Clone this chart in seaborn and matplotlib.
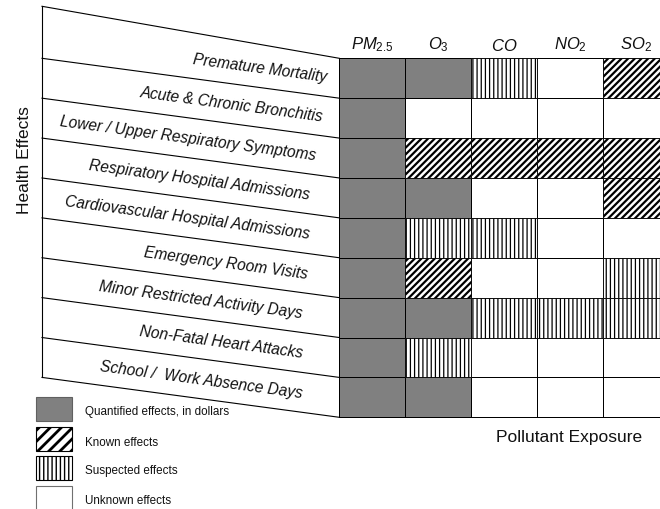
import numpy as np
import pandas as pd
import matplotlib
matplotlib.use("Agg")
import matplotlib.pyplot as plt
from matplotlib.colors import ListedColormap
from matplotlib.patches import Rectangle
import seaborn as sns

# ---------------- data ----------------
health_effects = [
    "Premature Mortality",
    "Acute & Chronic Bronchitis",
    "Lower / Upper Respiratory Symptoms",
    "Respiratory Hospital Admissions",
    "Cardiovascular Hospital Admissions",
    "Emergency Room Visits",
    "Minor Restricted Activity Days",
    "Non-Fatal Heart Attacks",
    "School /  Work Absence Days",
]
pollutants = [r"$\mathit{PM}_{\mathit{2.5}}$", r"$\mathit{O}_{\mathit{3}}$", r"$\mathit{CO}$",
              r"$\mathit{NO}_{\mathit{2}}$", r"$\mathit{SO}_{\mathit{2}}$"]
# Q = quantified, K = known, S = suspected, U = unknown
pm25 = ["Q", "Q", "Q", "Q", "Q", "Q", "Q", "Q", "Q"]
o3   = ["Q", "U", "K", "Q", "S", "K", "Q", "S", "Q"]
co   = ["S", "U", "K", "U", "S", "U", "S", "U", "U"]
no2  = ["U", "U", "K", "U", "U", "U", "S", "U", "U"]
so2  = ["K", "U", "K", "K", "U", "S", "S", "U", "U"]
legend_labels = ["Quantified effects, in dollars", "Known effects",
                 "Suspected effects", "Unknown effects"]

# ---------------- styling ----------------
plt.rcParams["font.family"] = ["Liberation Sans", "DejaVu Sans"]
plt.rcParams["mathtext.fontset"] = "custom"
plt.rcParams["mathtext.it"] = "Liberation Sans:italic"
plt.rcParams["mathtext.rm"] = "Liberation Sans"
plt.rcParams["hatch.linewidth"] = 1.0

GRAY = "#808080"
TXT = "#111111"
LW = 0.6

df = pd.DataFrame({"PM": pm25, "O3": o3, "CO": co, "NO2": no2, "SO2": so2},
                  index=health_effects)
quant = (df == "Q").astype(int)

fig = plt.figure(figsize=(6.6, 5.1), dpi=100)
W, H = 660, 510

# grid axes in pixel-measured location
gx0, gx1 = 339.3, 669.3
gy0, gy1 = 59.3, 418.3
ax = fig.add_axes([gx0 / W, 1 - gy1 / H, (gx1 - gx0) / W, (gy1 - gy0) / H])
sns.heatmap(quant, cmap=ListedColormap(["white", GRAY]), vmin=0, vmax=1,
            cbar=False, linewidths=LW, linecolor="black", ax=ax,
            xticklabels=pollutants, yticklabels=False)
ax.collections[0].set_clip_on(False)

hatch_map = {"K": "/////", "S": "||||"}
for j, col in enumerate(df.columns):
    for i, v in enumerate(df[col]):
        if v in hatch_map:
            b = ax.bar(j + 0.5, 1, bottom=i, width=1, facecolor="white",
                       edgecolor="black", linewidth=LW, hatch=hatch_map[v],
                       clip_on=False, zorder=3)
            for p in b.patches:
                try:
                    p.set_hatch_linewidth(1.6 if v == "K" else 0.9)
                except Exception:
                    pass

ax.xaxis.tick_top()
ax.tick_params(axis="x", length=0, pad=4, labelsize=12, labelcolor=TXT)
ax.tick_params(axis="y", length=0)
ax.set_xlabel("")
ax.set_ylabel("")

# overlay axes (pixel coordinates) for left panel, titles and legend
ov = fig.add_axes([0, 0, 1, 1], zorder=-1)
ov.set_xlim(0, W)
ov.set_ylim(H, 0)
ov.axis("off")

lx, rx = 42.0, gx0
rowh = (gy1 - gy0) / len(health_effects)
ov.plot([lx, lx], [7.3, gy1 - rowh], color="black", lw=LW + 0.2)
ov.plot([lx, rx], [7.3, gy0], color="black", lw=LW + 0.2)
for k in range(1, len(health_effects) + 1):
    ov.plot([lx, rx], [gy0 + rowh * (k - 1), gy0 + rowh * k], color="black", lw=LW + 0.2)

slope = rowh / (rx - lx)
angle = -np.degrees(np.arctan(slope))
label_right = [327, 323, 316, 310, 310, 308, 302, 303, 302]
for i, (lab, xr) in enumerate(zip(health_effects, label_right)):
    ymid = gy0 + rowh * i + rowh / 2 - (rx - xr) * slope
    ov.text(xr, ymid, lab, ha="right", va="center", rotation=angle,
            rotation_mode="anchor", fontsize=11.2, fontstyle="italic", color=TXT)

ov.text(25, 160, "Health Effects", rotation=90, ha="center", va="center",
        fontsize=12.5, color=TXT)
ov.text(569, 438, "Pollutant Exposure", ha="center", va="center",
        fontsize=12.5, color=TXT)

# legend
leg_y = [398, 428.3, 456.7, 486.7]
leg_style = [dict(facecolor=GRAY, edgecolor="#606060", hatch=None),
             dict(facecolor="white", edgecolor="black", hatch="///"),
             dict(facecolor="white", edgecolor="black", hatch="||||"),
             dict(facecolor="white", edgecolor="#707070", hatch=None)]
for y, lab, st in zip(leg_y, legend_labels, leg_style):
    r = Rectangle((36, y), 36, 24, linewidth=LW + 0.2, **st)
    ov.add_patch(r)
    if st["hatch"] == "///":
        try:
            r.set_hatch_linewidth(2.0)
        except Exception:
            pass
    ov.text(85, y + 14.5, lab, ha="left", va="center", fontsize=8.4, color=TXT)

fig.savefig("out.png", dpi=100)
